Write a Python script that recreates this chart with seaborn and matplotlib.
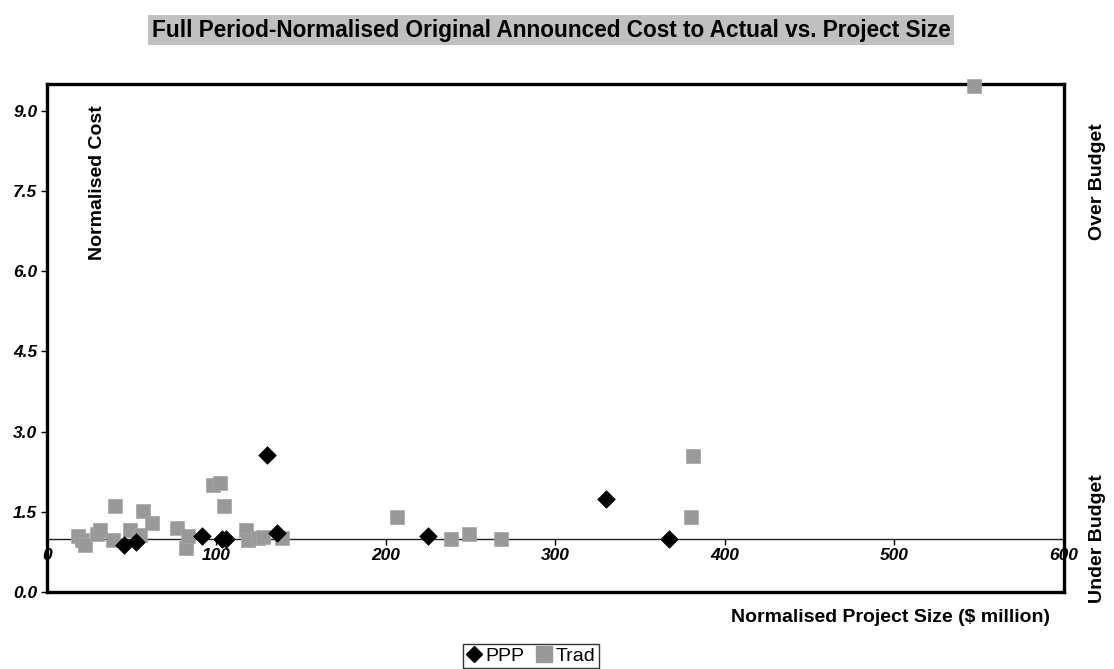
import pandas as pd
import matplotlib.pyplot as plt
from matplotlib.lines import Line2D
import seaborn as sns

# data
ppp_size = [45.4, 52.5, 91.3, 103.0, 105.4, 130.0, 135.9, 224.6, 329.6, 367.0]
ppp_cost = [0.88, 0.93, 1.04, 0.99, 0.99, 2.57, 1.11, 1.04, 1.74, 0.99]

trad_size = [18.5, 20.5, 22.4, 29.3, 31.3, 39.1, 40.1, 49.0, 54.9, 56.8, 61.8,
             76.5, 82.0, 83.4, 98.1, 102.0, 104.6, 117.4, 118.8, 124.7, 127.6,
             138.8, 206.3, 238.3, 249.2, 267.8, 380.0, 381.0, 547.0]
trad_cost = [1.04, 0.98, 0.88, 1.09, 1.16, 0.98, 1.61, 1.16, 1.07, 1.51, 1.29,
             1.19, 0.82, 1.04, 2.00, 2.04, 1.61, 1.16, 0.98, 1.01, 1.03,
             1.01, 1.40, 0.99, 1.09, 0.99, 1.41, 2.54, 9.47]

x_ticks = [0, 100, 200, 300, 400, 500, 600]
y_ticks = [0.0, 1.5, 3.0, 4.5, 6.0, 7.5, 9.0]
y_min, y_max = 0.0, 9.5
baseline = 1.0

ppp = pd.DataFrame({'size': ppp_size, 'cost': ppp_cost})
trad = pd.DataFrame({'size': trad_size, 'cost': trad_cost})

sns.set_style('white')
plt.rcParams['font.family'] = ['Liberation Sans', 'DejaVu Sans']
plt.rcParams['text.color'] = 'black'
plt.rcParams['xtick.color'] = 'black'
plt.rcParams['ytick.color'] = 'black'

fig = plt.figure(figsize=(11.14, 6.69), dpi=100)
ax = fig.add_axes([0.0422, 0.1151, 0.9128, 0.7593])

sns.scatterplot(data=trad, x='size', y='cost', ax=ax, marker='s', s=100,
                color='#999999', edgecolor='#a6a6a6', linewidth=0.5, zorder=3,
                clip_on=False)
sns.scatterplot(data=ppp, x='size', y='cost', ax=ax, marker='D', s=80,
                color='black', edgecolor='black', linewidth=0.5, zorder=4,
                clip_on=False)

ax.set_xlim(0, 600)
ax.set_ylim(y_min, y_max)
ax.set_xlabel('')
ax.set_ylabel('')

# frame
for sp in ax.spines.values():
    sp.set_visible(True)
    sp.set_color('black')
    sp.set_linewidth(2.4)

# y axis
ax.set_yticks(y_ticks)
ax.set_yticklabels(['%.1f' % v for v in y_ticks], fontsize=12.5,
                   fontweight='bold', fontstyle='italic', color='black')
ax.tick_params(axis='y', direction='out', length=4, width=1, left=True, pad=3,
               colors='black')
ax.tick_params(axis='x', bottom=False, labelbottom=False)

# x axis crossing at cost = 1.0
loc = (baseline - y_min) / (y_max - y_min)
sec = ax.secondary_xaxis(loc)
sec.spines['bottom'].set_linewidth(1.0)
sec.spines['bottom'].set_color('#222222')
sec.set_xticks(x_ticks)
sec.set_xticklabels([str(v) for v in x_ticks], fontsize=12.5,
                    fontweight='bold', fontstyle='italic', color='black')
sec.tick_params(axis='x', direction='out', length=4, width=1, pad=3,
                colors='black')

# labels
ax.text(97 / 1114, 1 - 105 / 669, 'Normalised Cost', transform=fig.transFigure,
        rotation=90, ha='center', va='top', fontsize=14, fontweight='bold')
fig.text(1050 / 1114, 1 - 617 / 669, 'Normalised Project Size ($ million)',
         ha='right', va='center', fontsize=14, fontweight='bold')
fig.text(1098 / 1114, 1 - 182 / 669, 'Over Budget', rotation=90,
         ha='center', va='center', fontsize=14, fontweight='bold')
fig.text(1098 / 1114, 1 - 539 / 669, 'Under Budget', rotation=90,
         ha='center', va='center', fontsize=14, fontweight='bold')

fig.text(551 / 1114, 1 - 30 / 669,
         'Full Period-Normalised Original Announced Cost to Actual vs. Project Size',
         ha='center', va='center', fontsize=16.3, fontweight='bold',
         bbox=dict(boxstyle='square,pad=0.15', facecolor='#c0c0c0', edgecolor='none'))

handles = [Line2D([], [], marker='D', color='black', linestyle='none', markersize=8),
           Line2D([], [], marker='s', color='#999999', linestyle='none', markersize=11)]
leg = fig.legend(handles, ['PPP', 'Trad'], loc='center',
                 bbox_to_anchor=(531 / 1114, 1 - 656 / 669), ncol=2,
                 frameon=True, fancybox=False, edgecolor='black', fontsize=14,
                 handlelength=0.8, handletextpad=0.2, columnspacing=0.6,
                 borderpad=0.15, borderaxespad=0)
leg.get_frame().set_linewidth(1.0)

plt.savefig('out.png', dpi=100)
